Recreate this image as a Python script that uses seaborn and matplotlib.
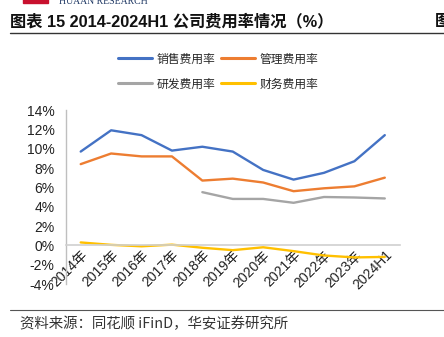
import matplotlib
matplotlib.use("Agg")
import matplotlib.pyplot as plt
import seaborn as sns
import numpy as np
import pandas as pd
from matplotlib.lines import Line2D
from matplotlib.patches import Rectangle

# Expense ratios (%) by year
years = ["2014年", "2015年", "2016年", "2017年", "2018年", "2019年",
         "2020年", "2021年", "2022年", "2023年", "2024H1"]
selling = [9.7, 11.9, 11.4, 9.8, 10.2, 9.7, 7.8, 6.8, 7.5, 8.7, 11.4]
admin = [8.4, 9.5, 9.2, 9.2, 6.7, 6.9, 6.5, 5.6, 5.9, 6.1, 7.0]
rnd = [np.nan, np.nan, np.nan, np.nan, 5.5, 4.8, 4.8, 4.4, 5.0, 4.95, 4.85]
finance = [0.3, 0.05, -0.1, 0.07, -0.25, -0.5, -0.2, -0.6, -1.05, -1.25, -1.2]

series_names = ["销售费用率", "管理费用率", "研发费用率", "财务费用率"]
colors = ["#4472C4", "#ED7D31", "#A5A5A5", "#FFC000"]
y_ticks = [-4, -2, 0, 2, 4, 6, 8, 10, 12, 14]

sns.set_theme(style="white")
plt.rcParams["font.family"] = ["Liberation Sans", "Noto Sans CJK SC", "DejaVu Sans"]

pos = np.arange(len(years))
df = pd.DataFrame({"pos": pos, **dict(zip(series_names, [selling, admin, rnd, finance]))})
long = df.melt(id_vars="pos", var_name="series", value_name="value")

W, H = 444, 337
fig = plt.figure(figsize=(W / 100, H / 100), dpi=100)

left, right, top, bottom = 65.5, 400, 110, 284
ax = fig.add_axes([left / W, 1 - bottom / H, (right - left) / W, (bottom - top) / H])

sns.lineplot(data=long, x="pos", y="value", hue="series", hue_order=series_names,
             palette=colors, linewidth=1.7, ax=ax, legend=False, sort=False)

# Spines first: moving the bottom spine rebuilds the ticks
ax.spines["top"].set_visible(False)
ax.spines["right"].set_visible(False)
ax.spines["left"].set_color("#BFBFBF")
ax.spines["bottom"].set_position(("data", 0))
ax.spines["bottom"].set_color("#D0D0D0")
ax.spines["left"].set_linewidth(1.0)
ax.spines["bottom"].set_linewidth(1.2)
ax.grid(False)

ax.set_xlim(-0.5, len(years) - 0.5)
ax.set_ylim(-4, 14)
ax.set_xlabel("")
ax.set_ylabel("")
ax.tick_params(axis="both", length=0)
ax.tick_params(axis="y", pad=8)
ax.tick_params(axis="x", pad=2)
ax.set_yticks(y_ticks)
ax.set_yticklabels([f"{v}%" for v in y_ticks], fontsize=10, color="#222222")
ax.set_xticks(pos)
ax.set_xticklabels(years, fontsize=10, color="#222222", rotation=45,
                   ha="right", rotation_mode="anchor")

# Legend, two per row (columns are filled first, so interleave)
handles = [Line2D([0], [0], color=c, linewidth=2.2) for c in colors]
order = [0, 2, 1, 3]
fig.legend([handles[i] for i in order], [series_names[i] for i in order],
           ncol=2, loc="center",
           bbox_to_anchor=(218 / W, 1 - 71.5 / H), frameon=False,
           prop={"family": ["Noto Sans CJK SC"], "size": 8.5},
           handlelength=2.9, handletextpad=0.35, columnspacing=0.5,
           labelspacing=1.0)

# Header: logo strip, title and rule
fig.patches.append(Rectangle((23 / W, 1 - 2.5 / H), 25 / W, 4 / H,
                             transform=fig.transFigure, color="#C8102E"))
fig.text(59 / W, 1 - 1 / H, "HUAAN RESEARCH", fontsize=7, color="#1F3864",
         family="Liberation Serif", va="center", ha="left")
fig.text(10 / W, 1 - 21 / H, "图表 15 2014-2024H1 公司费用率情况（%）",
         fontsize=11.7, fontweight="bold", color="#111111",
         family=["Liberation Sans", "Noto Sans CJK SC"], va="center", ha="left")
fig.text(435 / W, 1 - 21 / H, "图", fontsize=11.7, fontweight="bold", color="#111111",
         family=["Noto Sans CJK SC"], va="center", ha="left")
fig.add_artist(Line2D([10 / W, 1], [1 - 33 / H, 1 - 33 / H], color="#333333",
                      linewidth=1.0, transform=fig.transFigure))

# Footer
fig.add_artist(Line2D([10 / W, 1], [1 - 310 / H, 1 - 310 / H], color="#555555",
                      linewidth=0.8, transform=fig.transFigure))
fig.text(20 / W, 1 - 324 / H, "资料来源：同花顺 iFinD，华安证券研究所",
         fontsize=10.4, color="#333333",
         family=["Noto Sans CJK SC", "Liberation Sans"], va="center", ha="left")

fig.savefig("out.png", dpi=100)
